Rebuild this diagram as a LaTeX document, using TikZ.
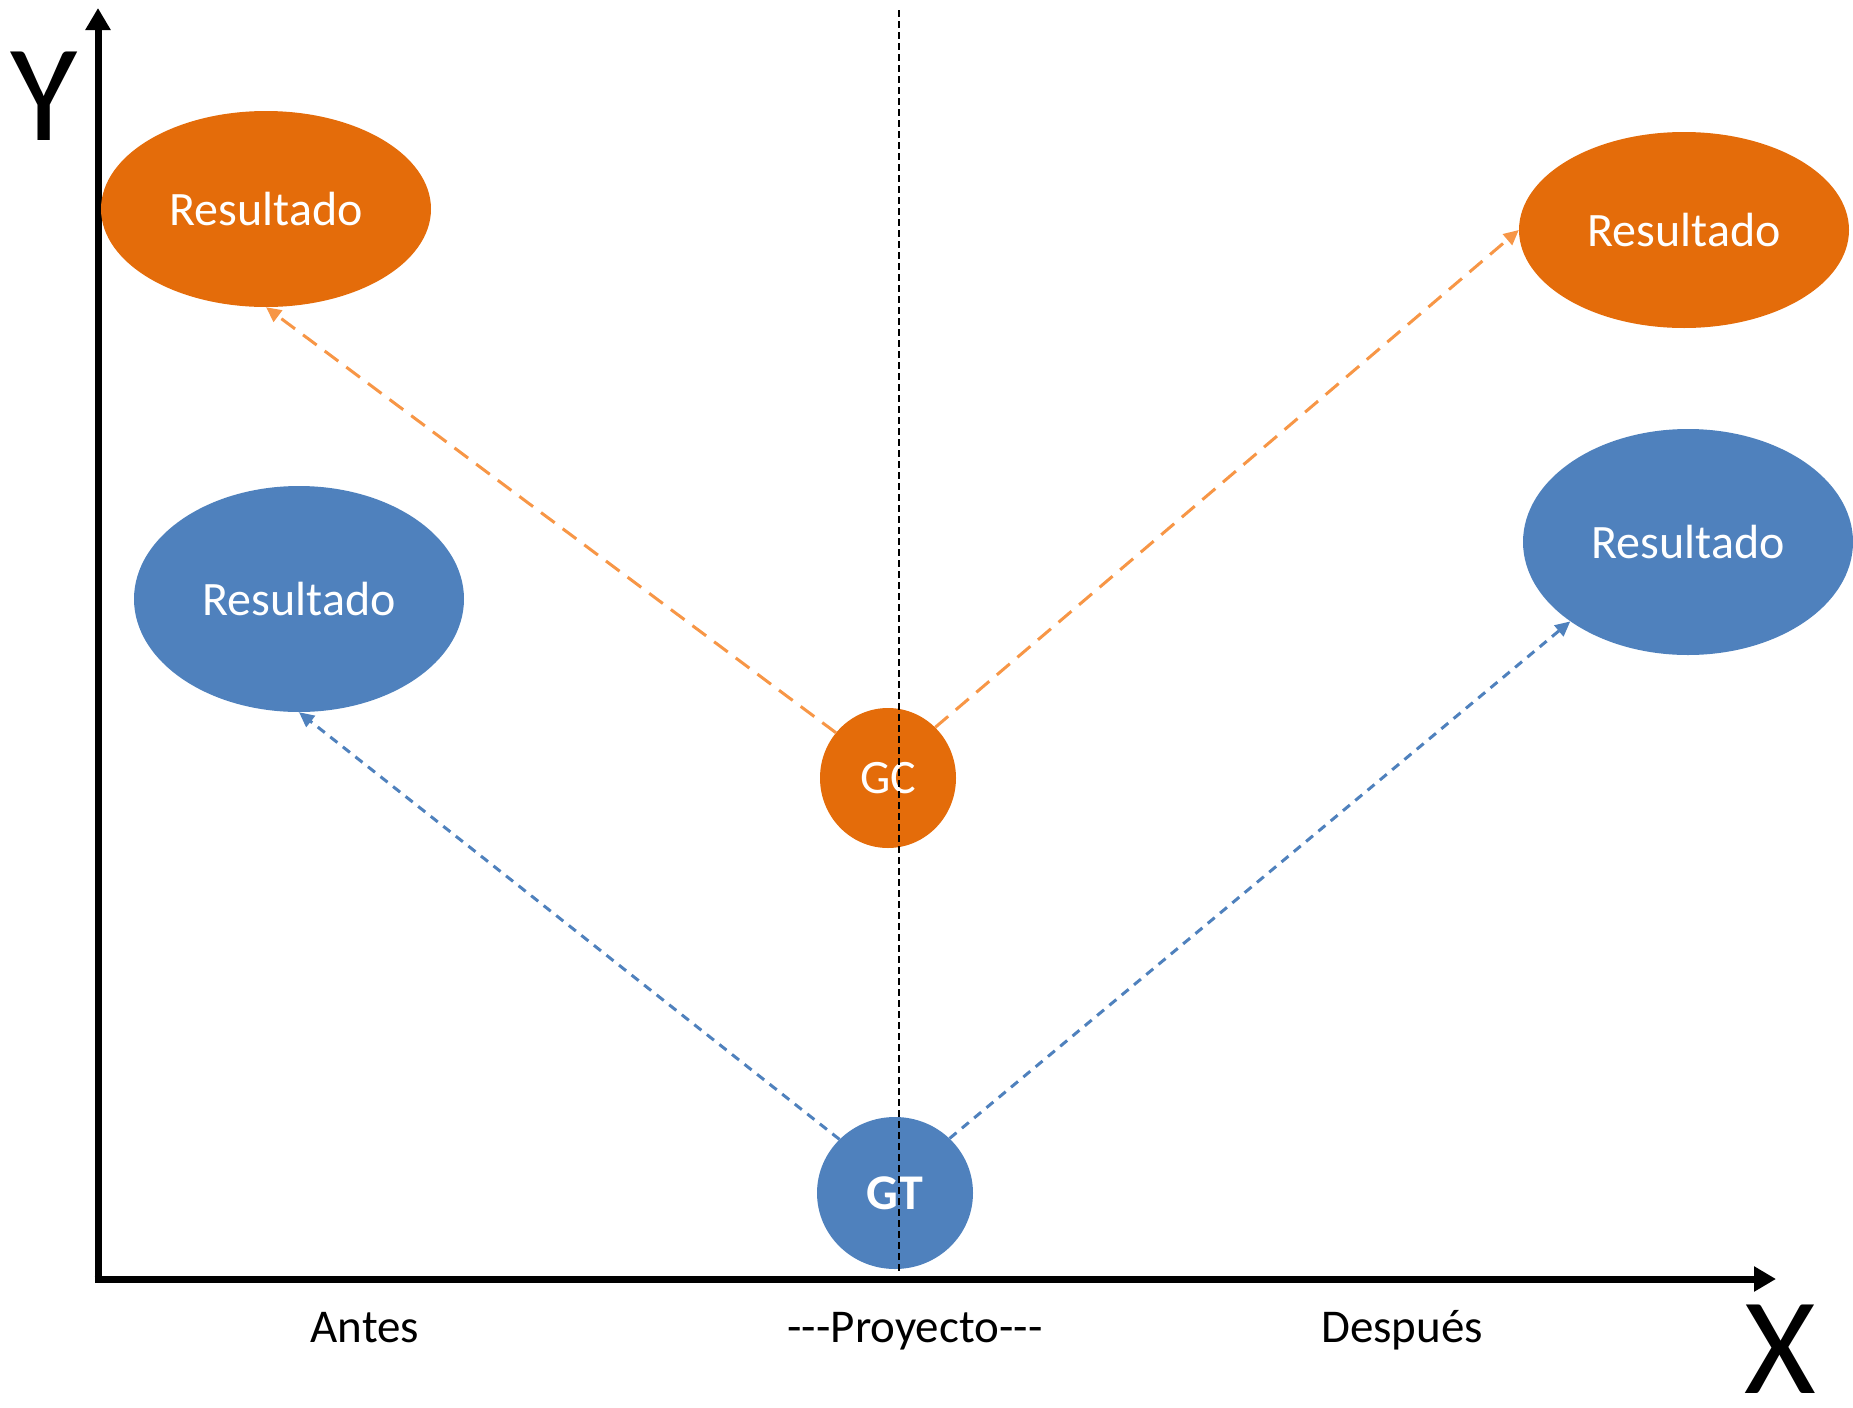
\documentclass[tikz,border=0pt]{standalone}
\usepackage{fontspec}
\setmainfont{Carlito}
\usetikzlibrary{arrows.meta,shapes.geometric}
\definecolor{accOrange}{HTML}{E46C0A}
\definecolor{lineOrange}{HTML}{F79646}
\definecolor{accBlue}{HTML}{4F81BD}

\begin{document}
\begin{tikzpicture}[x=1pt,y=-1pt,
  resultnode/.style={ellipse, inner sep=0pt, minimum width=330pt, text=white,
    font=\fontsize{48}{50}\selectfont},
  orangefill/.style={fill=accOrange, draw=none},
  bluefill/.style={fill=accBlue, draw=none},
  hub/.style={ellipse, inner sep=0pt, text=white, font=\fontsize{48}{50}\selectfont},
  axisline/.style={line width=7pt, -{Triangle[length=22pt,width=24pt]}},
  orangelink/.style={draw=lineOrange, line width=3pt, dash pattern=on 17pt off 10pt,
    -{Triangle[length=15pt,width=14pt]}},
  bluelink/.style={draw=accBlue, line width=3pt, dash pattern=on 9pt off 7pt,
    -{Triangle[length=15pt,width=14pt]}},
  axislabel/.style={anchor=base, font=\fontsize{47}{50}\selectfont},
  bigletter/.style={inner sep=0pt, text depth=0pt, font=\fontsize{138}{140}\selectfont}
]
\useasboundingbox (0,0) rectangle (1853,1408);

% axes
\coordinate (origin) at (98,1279);
\coordinate (ytip) at (98,8);
\coordinate (xtip) at (1776,1279);
\draw[axisline] (origin) -- (ytip);
\draw[axisline] ([xshift=-3.5pt]origin) -- (xtip);
\node[bigletter, anchor=base] (ylabel) at (44,140) {Y};
\node[bigletter, anchor=base] (xlabel) at (1780,1393) {X};

% result ellipses
\node[resultnode, orangefill, minimum height=196pt] (resTL) at (266,209) {Resultado};
\node[resultnode, bluefill, minimum height=226pt] (resBL) at (299,599) {Resultado};
\node[resultnode, orangefill, minimum height=196pt] (resTR) at (1684,230) {Resultado};
\node[resultnode, bluefill, minimum height=226pt] (resBR) at (1688,542) {Resultado};

% hubs
\node[hub, orangefill, minimum width=136pt, minimum height=140pt] (gc) at (888,778) {GC};
\node[hub, bluefill, minimum width=156pt, minimum height=152pt,
  font=\fontsize{50}{52}\selectfont\bfseries] (gt) at (895,1193) {GT};

% links
\draw[orangelink] (gc.139) -- (resTL.south);
\draw[orangelink] (gc.47) -- (resTR.west);
\draw[bluelink] (gt.136) -- (resBL.south);
\draw[bluelink] (gt.45) -- (resBR.214);

% project divider
\coordinate (divtop) at (899,10);
\coordinate (divbot) at (899,1272);
\draw[black, line width=2pt, dash pattern=on 7pt off 4pt] (divtop) -- (divbot);

% phase labels
\node[axislabel] (antes) at (365,1342) {Antes};
\node[axislabel] (proyecto) at (915,1342) {-{}-{}-Proyecto-{}-{}-};
\node[axislabel] (despues) at (1402,1342) {Después};
\end{tikzpicture}
\end{document}
